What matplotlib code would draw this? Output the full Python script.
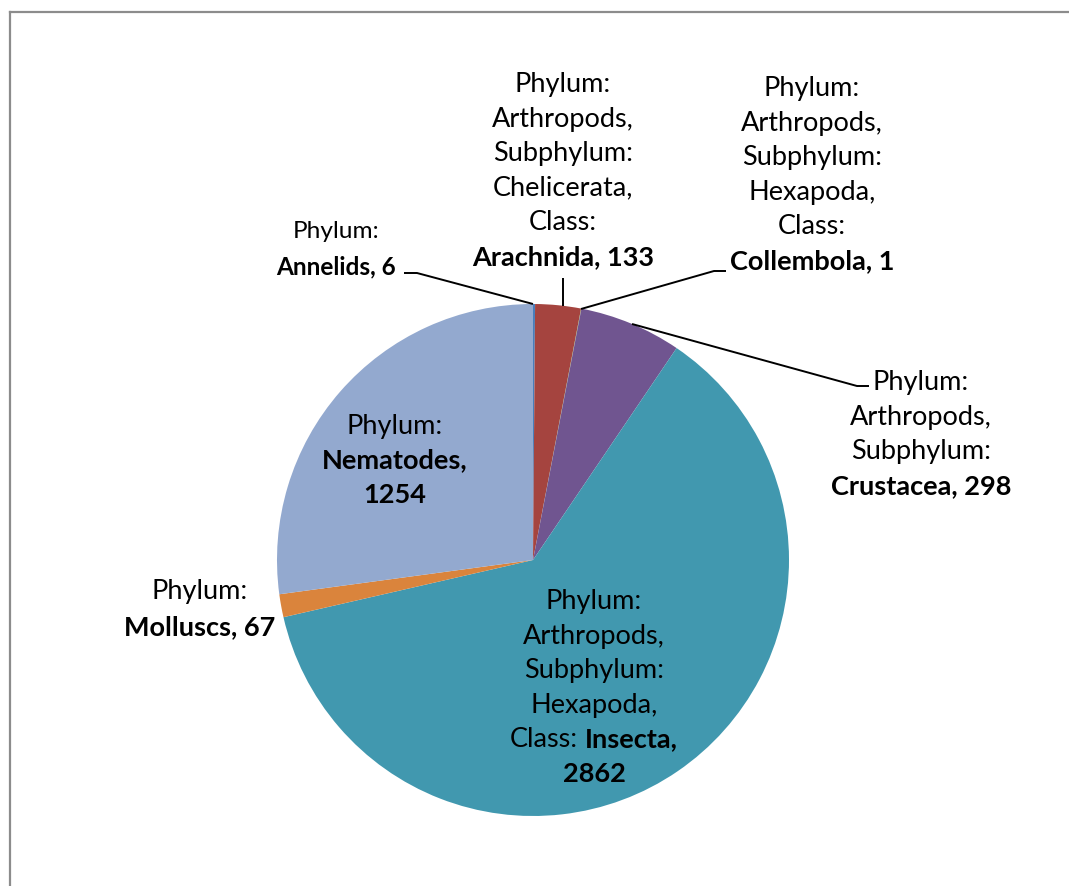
import matplotlib
matplotlib.use("Agg")
import matplotlib.pyplot as plt
from matplotlib.lines import Line2D

# ---- data ----
categories = ["Annelids", "Arachnida", "Collembola", "Crustacea", "Insecta", "Molluscs", "Nematodes"]
values = [6, 133, 1, 298, 2862, 67, 1254]
label_prefixes = [
    ["Phylum:"],
    ["Phylum:", "Arthropods,", "Subphylum:", "Chelicerata,", "Class:"],
    ["Phylum:", "Arthropods,", "Subphylum:", "Hexapoda,", "Class:"],
    ["Phylum:", "Arthropods,", "Subphylum:"],
    ["Phylum:", "Arthropods,", "Subphylum:", "Hexapoda,", "Class:"],
    ["Phylum:"],
    ["Phylum:"],
]
colors = ["#4A7EBB", "#A5443F", "#8AA84E", "#705590", "#4198AF", "#DA843C", "#93A9CF"]

W, H = 1069, 887
FONT = "Lato"
FS = 19.5

fig = plt.figure(figsize=(W / 100, H / 100), dpi=100)
ax = fig.add_axes([0, 0, 1, 1])


def Y(y):
    return H - y


ax.pie(values, colors=colors, startangle=90, counterclock=False,
       center=(533, Y(561)), radius=256,
       wedgeprops=dict(linewidth=0))
ax.set_xlim(0, W)
ax.set_ylim(0, H)
ax.set_axis_off()

# chart border (top and left visible)
fig.add_artist(Line2D([10 / W, 1], [Y(13) / H, Y(13) / H], color="#8C8C8C", lw=1.6))
fig.add_artist(Line2D([10 / W, 10 / W], [0, Y(13) / H], color="#8C8C8C", lw=1.6))

renderer = fig.canvas.get_renderer()


def draw_line(segments, cx, y, fs):
    texts = []
    for s, b in segments:
        t = ax.text(0, Y(y), s, fontsize=fs, family=FONT,
                    fontweight="bold" if b else "normal",
                    ha="left", va="baseline", color="black")
        texts.append(t)
    widths = [t.get_window_extent(renderer).width for t in texts]
    gap = fs * 100 / 72 * 0.25
    total = sum(widths) + gap * (len(texts) - 1)
    x = cx - total / 2
    for t, w in zip(texts, widths):
        t.set_x(x)
        x += w + gap


def build_lines(i, wrap_bold=None):
    lines = [[(p, False)] for p in label_prefixes[i]]
    bold = f"{categories[i]}, {values[i]}"
    if wrap_bold == "insecta":
        lines[-1] = [(label_prefixes[i][-1], False), (f"{categories[i]},", True)]
        lines.append([(str(values[i]), True)])
    elif wrap_bold == "split":
        lines.append([(f"{categories[i]},", True)])
        lines.append([(str(values[i]), True)])
    else:
        lines.append([(bold, True)])
    return lines


def draw_label(lines, cx, y0, spacing, fs=FS):
    for k, segs in enumerate(lines):
        draw_line(segs, cx, y0 + k * spacing, fs)


SP = 34.6
# Annelids
draw_label(build_lines(0), 336, 238, 36, fs=FS * 0.9)
# Arachnida
draw_label(build_lines(1), 563, 92, SP)
# Collembola
draw_label(build_lines(2), 812, 96, SP)
# Crustacea
draw_label(build_lines(3), 921, 390, SP)
# Insecta
draw_label(build_lines(4, "insecta"), 594, 609, SP)
# Molluscs
draw_label(build_lines(5), 200, 599, 36)
# Nematodes
draw_label(build_lines(6, "split"), 395, 434, SP)

# leader lines
def leader(xs, ys):
    ax.plot(xs, [Y(v) for v in ys], color="black", lw=1.4, solid_capstyle="butt")

leader([404, 417, 533], [274, 274, 305])
leader([563, 563], [279, 307])
leader([726, 714, 581], [272, 272, 310])
leader([869, 857, 632], [387, 387, 325])

fig.savefig("out.png", dpi=100, facecolor="white")
